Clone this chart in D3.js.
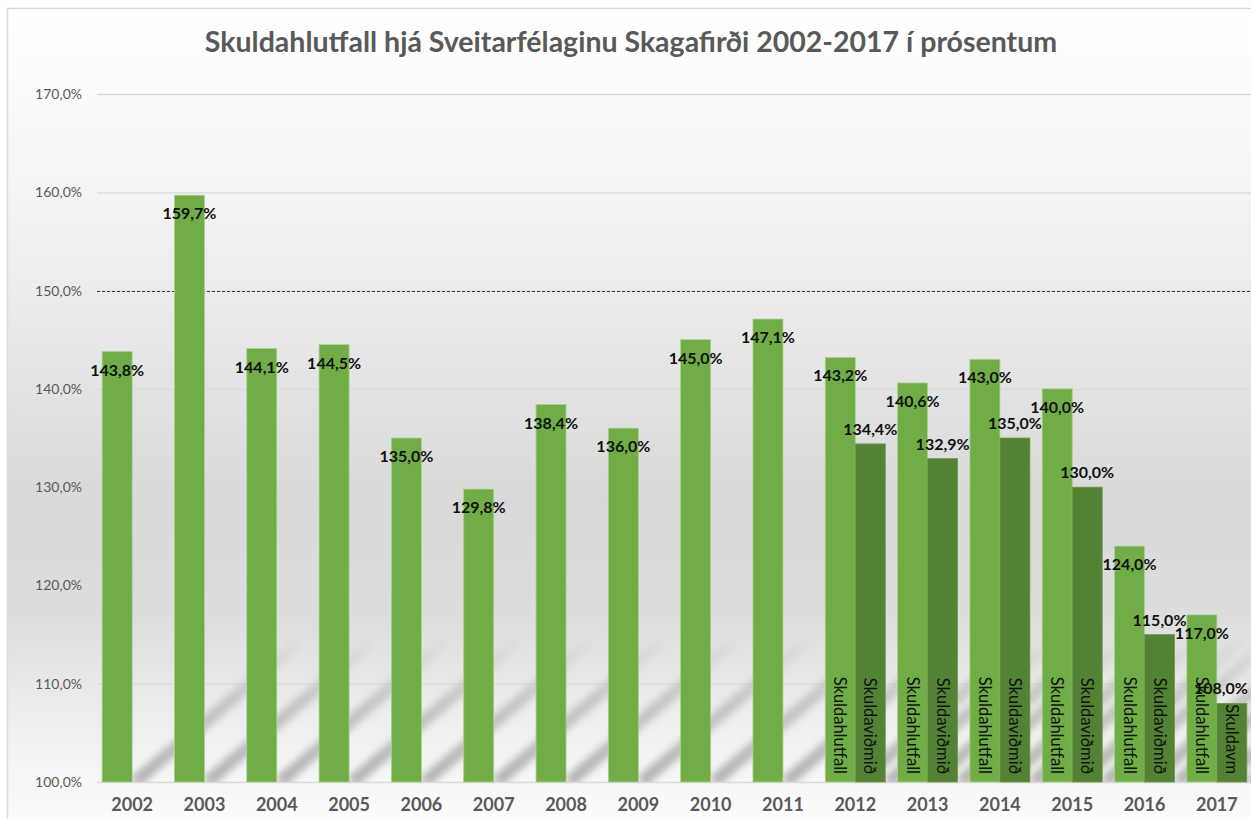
<!DOCTYPE html>
<html>
<head>
<meta charset="utf-8">
<script src="https://cdn.jsdelivr.net/npm/d3@7"></script>
<style>
  body { margin: 0; background: #ffffff; }
  svg { display: block; font-family: Lato, "Open Sans", sans-serif; }
</style>
</head>
<body>
<div id="chart"></div>
<script>
// data
var years = ["2002", "2003", "2004", "2005", "2006", "2007", "2008", "2009",
             "2010", "2011", "2012", "2013", "2014", "2015", "2016", "2017"];
var skuldahlutfall = [143.8, 159.7, 144.1, 144.5, 135.0, 129.8, 138.4, 136.0,
                      145.0, 147.1, 143.2, 140.6, 143.0, 140.0, 124.0, 117.0];
var skuldavidmid = [null, null, null, null, null, null, null, null,
                    null, null, 134.4, 132.9, 135.0, 130.0, 115.0, 108.0];
var seriesNames = ["Skuldahlutfall", "Skuldaviðmið"];
// series-name labels written inside the bars (last one is cut short in the original)
var nameLabelsLight = [null, null, null, null, null, null, null, null, null, null,
                       "Skuldahlutfall", "Skuldahlutfall", "Skuldahlutfall", "Skuldahlutfall", "Skuldahlutfall", "Skuldahlutfall"];
var nameLabelsDark = [null, null, null, null, null, null, null, null, null, null,
                      "Skuldaviðmið", "Skuldaviðmið", "Skuldaviðmið", "Skuldaviðmið", "Skuldaviðmið", "Skuldavm"];
var yTicks = [100, 110, 120, 130, 140, 150, 160, 170];
var refLine = 150;
var title = "Skuldahlutfall hjá Sveitarfélaginu Skagafirði 2002-2017 í prósentum";

var W = 1251, H = 819;
var plotL = 96, plotR = 1253, plotT = 94, plotB = 782;

var svg = d3.select("#chart").append("svg")
    .attr("width", W)
    .attr("height", H);

var defs = svg.append("defs");

// background gradient of the chart area
var bg = defs.append("linearGradient")
    .attr("id", "bg")
    .attr("x1", 0).attr("y1", 0).attr("x2", 0).attr("y2", 1);
[[0, "#ffffff"], [0.11, "#fbfbfb"], [0.36, "#ebebeb"], [0.6, "#d9d9d9"],
 [0.74, "#dddddd"], [0.85, "#ececec"], [0.95, "#f7f7f7"], [1, "#fdfdfd"]]
  .forEach(function (s) {
    bg.append("stop").attr("offset", s[0]).attr("stop-color", s[1]);
  });

var blur = defs.append("filter").attr("id", "blur")
    .attr("x", "-50%").attr("y", "-50%").attr("width", "200%").attr("height", "200%");
blur.append("feGaussianBlur").attr("stdDeviation", 3.5);

var fade = defs.append("linearGradient")
    .attr("id", "fade")
    .attr("gradientUnits", "objectBoundingBox")
    .attr("x1", 0).attr("y1", 1).attr("x2", 1).attr("y2", 0);
fade.append("stop").attr("offset", 0).attr("stop-color", "#a0a0a0").attr("stop-opacity", 0.8);
fade.append("stop").attr("offset", 0.6).attr("stop-color", "#a8a8a8").attr("stop-opacity", 0.55);
fade.append("stop").attr("offset", 1).attr("stop-color", "#b0b0b0").attr("stop-opacity", 0);

defs.append("clipPath").attr("id", "plotclip")
  .append("rect")
    .attr("x", plotL).attr("y", plotT)
    .attr("width", plotR - plotL).attr("height", plotB - plotT);

svg.append("rect")
    .attr("x", 7.5).attr("y", 8.5)
    .attr("width", W).attr("height", H)
    .attr("fill", "url(#bg)")
    .attr("stroke", "#d9d9d9")
    .attr("stroke-width", 1.5);

// scales
var x = d3.scaleBand()
    .domain(years)
    .range([plotL, plotR])
    .paddingInner(0.17)
    .paddingOuter(0.085);

var x1 = d3.scaleBand()
    .domain(seriesNames)
    .range([0, x.bandwidth()]);

var y = d3.scaleLinear()
    .domain([100, 170])
    .range([plotB, plotT]);

var rows = years.map(function (yr, i) {
  return { year: yr, vals: [skuldahlutfall[i], skuldavidmid[i]],
           names: [nameLabelsLight[i], nameLabelsDark[i]] };
});

// gridlines
svg.append("g")
    .selectAll("line")
    .data(yTicks)
    .enter()
    .append("line")
    .attr("x1", plotL + 1).attr("x2", W)
    .attr("y1", function (d) { return y(d) + 0.5; })
    .attr("y2", function (d) { return y(d) + 0.5; })
    .attr("stroke", "#d9d9d9")
    .attr("stroke-width", 1.3);

// y axis labels
var yAxis = svg.append("g")
    .attr("transform", "translate(" + (plotL - 14) + ",0)")
    .call(d3.axisLeft(y)
        .tickValues(yTicks)
        .tickSize(0)
        .tickPadding(0)
        .tickFormat(function (d) { return d3.format(".1f")(d).replace(".", ",") + "%"; }));
yAxis.select(".domain").remove();
yAxis.selectAll("text")
    .attr("fill", "#595959")
    .style("font-size", "14px")
    .style("font-family", "Lato, sans-serif");

// soft diagonal shadows on the floor
var shadows = svg.append("g").attr("clip-path", "url(#plotclip)");
rows.forEach(function (r) {
  r.vals.forEach(function (v, k) {
    if (v == null) return;
    var xr = x(r.year) + x1(seriesNames[k]) + x1.bandwidth();
    shadows.append("path")
        .attr("d", "M" + (xr - 2) + "," + (plotB - 4) +
                   " L" + (xr + 170) + "," + (plotB - 150) +
                   " L" + (xr + 172) + "," + (plotB - 136) +
                   " L" + (xr + 8) + "," + (plotB + 4) + " Z")
        .attr("fill", "url(#fade)")
        .attr("filter", "url(#blur)");
  });
});

// dashed reference line at 150%
svg.append("line")
    .attr("x1", plotL + 1).attr("x2", W)
    .attr("y1", Math.round(y(refLine)) + 0.5)
    .attr("y2", Math.round(y(refLine)) + 0.5)
    .attr("stroke", "#333333")
    .attr("stroke-width", 1)
    .attr("stroke-dasharray", "3,2");

// bars
var colors = ["#70ad47", "#548235"];
var edges = ["#a9d18e", "#6f9a4f"];

var groups = svg.append("g")
    .selectAll("g")
    .data(rows)
    .enter()
    .append("g")
    .attr("transform", function (d) { return "translate(" + x(d.year) + ",0)"; });

var cells = groups.selectAll("g")
    .data(function (d) {
      return d.vals.map(function (v, k) {
        return { key: seriesNames[k], k: k, v: v, name: d.names[k], gx: x(d.year) };
      }).filter(function (e) { return e.v != null; });
    })
    .enter()
    .append("g");

cells.append("rect")
    .attr("x", function (d) { return x1(d.key); })
    .attr("y", function (d) { return y(d.v); })
    .attr("width", x1.bandwidth())
    .attr("height", function (d) { return y(100) - y(d.v); })
    .attr("fill", function (d) { return colors[d.k]; })
    .attr("stroke", function (d) { return edges[d.k]; })
    .attr("stroke-width", 0.8);

// series names written vertically inside the bars
cells.filter(function (d) { return d.name; })
    .append("text")
    .attr("transform", function (d) {
      return "translate(" + (x1(d.key) + x1.bandwidth() / 2) + "," + (plotB - 8) + ") rotate(90)";
    })
    .attr("text-anchor", "end")
    .attr("dy", "0.36em")
    .attr("fill", "#111111")
    .style("font-size", "16.5px")
    .text(function (d) { return d.name; });

// value labels: inside end for the light series, outside end for the dark one
cells.append("text")
    .attr("x", function (d) { return x1(d.key) + x1.bandwidth() / 2; })
    .attr("y", function (d) { return d.k === 0 ? y(d.v) + 24 : y(d.v) - 9; })
    .attr("text-anchor", "middle")
    .attr("fill", "#111111")
    .style("font-size", "16px")
    .style("font-weight", "bold")
    .text(function (d) { return d3.format(".1f")(d.v).replace(".", ",") + "%"; })
    .each(function (d) {
      // keep labels inside the picture, as the original does at the right edge
      var half = this.getComputedTextLength() / 2;
      var cx = d.gx + x1(d.key) + x1.bandwidth() / 2;
      if (cx + half > W - 3) d3.select(this).attr("x", x1(d.key) + x1.bandwidth() / 2 - (cx + half - W + 3));
    });

// x axis labels
var xAxis = svg.append("g")
    .attr("transform", "translate(0," + plotB + ")")
    .call(d3.axisBottom(x).tickSize(0).tickPadding(16));
xAxis.select(".domain").remove();
xAxis.selectAll("text")
    .attr("fill", "#595959")
    .style("font-size", "18px")
    .style("font-weight", "bold")
    .style("font-family", "Lato, sans-serif");

// title
svg.append("text")
    .attr("x", 631)
    .attr("y", 52)
    .attr("text-anchor", "middle")
    .attr("fill", "#595959")
    .style("font-size", "28.5px")
    .style("font-weight", "bold")
    .text(title);
</script>
</body>
</html>
